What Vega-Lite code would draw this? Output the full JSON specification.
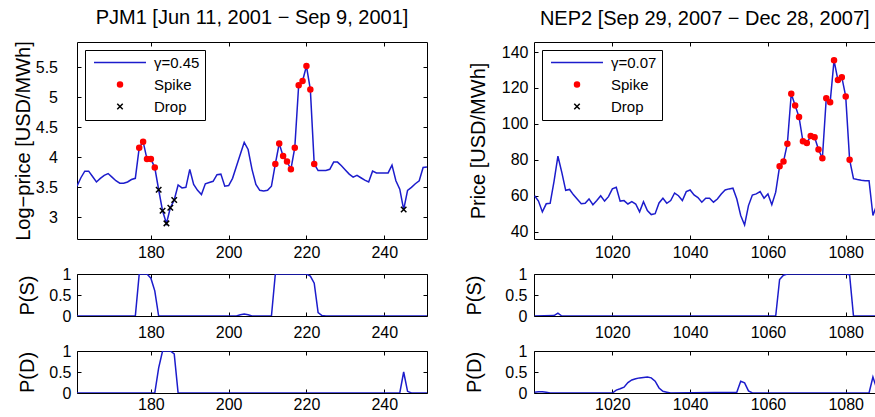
{
  "$schema": "https://vega.github.io/schema/vega-lite/v6.json",
  "padding": {"left": 12, "top": 7, "right": 0, "bottom": 0},
  "background": "white",
  "config": {
    "font": "Liberation Sans",
    "view": {"stroke": "black", "strokeWidth": 1},
    "axis": {
      "domain": false, "grid": false, "tickColor": "black", "tickSize": -4, "tickWidth": 1,
      "labelFont": "Liberation Sans", "labelFontSize": 16, "labelColor": "black",
      "titleFont": "Liberation Sans", "titleFontSize": 20, "titleFontWeight": "normal", "titleColor": "black"
    },
    "title": {"font": "Liberation Sans", "fontSize": 20, "fontWeight": "normal", "color": "black", "anchor": "middle", "frame": "group", "baseline": "alphabetic", "offset": 13},
    "legend": {
      "orient": "top-left", "offset": 8, "padding": 5, "strokeColor": "black", "fillColor": "white",
      "labelFont": "Liberation Sans", "labelFontSize": 15, "labelColor": "black",
      "clipHeight": 15, "rowPadding": 6, "labelOffset": 7, "symbolOffset": 3, "symbolStrokeWidth": 1.5
    }
  },
  "datasets": {
    "pjm": [
      {"d":161,"v":3.52,"e":""},{"d":162,"v":3.66,"e":""},{"d":163,"v":3.77,"e":""},{"d":164,"v":3.77,"e":""},
      {"d":165,"v":3.68,"e":""},{"d":166,"v":3.59,"e":""},{"d":167,"v":3.65,"e":""},{"d":168,"v":3.70,"e":""},
      {"d":169,"v":3.73,"e":""},{"d":170,"v":3.67,"e":""},{"d":171,"v":3.61,"e":""},{"d":172,"v":3.57,"e":""},
      {"d":173,"v":3.57,"e":""},{"d":174,"v":3.59,"e":""},{"d":175,"v":3.63,"e":""},{"d":176,"v":3.65,"e":""},
      {"d":177,"v":4.16,"e":"Spike"},{"d":178,"v":4.26,"e":"Spike"},{"d":179,"v":3.97,"e":"Spike"},{"d":180,"v":3.97,"e":"Spike"},
      {"d":181,"v":3.83,"e":"Spike"},{"d":182,"v":3.46,"e":"Drop"},{"d":183,"v":3.11,"e":"Drop"},{"d":184,"v":2.90,"e":"Drop"},
      {"d":185,"v":3.16,"e":"Drop"},{"d":186,"v":3.29,"e":"Drop"},{"d":187,"v":3.54,"e":""},{"d":188,"v":3.49,"e":""},
      {"d":189,"v":3.50,"e":""},{"d":190,"v":3.80,"e":""},{"d":191,"v":3.55,"e":""},{"d":192,"v":3.45,"e":""},
      {"d":193,"v":3.38,"e":""},{"d":194,"v":3.56,"e":""},{"d":195,"v":3.58,"e":""},{"d":196,"v":3.60,"e":""},
      {"d":197,"v":3.71,"e":""},{"d":198,"v":3.72,"e":""},{"d":199,"v":3.52,"e":""},{"d":200,"v":3.53,"e":""},
      {"d":201,"v":3.65,"e":""},{"d":202,"v":3.85,"e":""},{"d":203,"v":4.05,"e":""},{"d":204,"v":4.25,"e":""},
      {"d":205,"v":4.13,"e":""},{"d":206,"v":3.80,"e":""},{"d":207,"v":3.55,"e":""},{"d":208,"v":3.45,"e":""},
      {"d":209,"v":3.44,"e":""},{"d":210,"v":3.45,"e":""},{"d":211,"v":3.52,"e":""},
      {"d":212,"v":3.89,"e":"Spike"},{"d":213,"v":4.23,"e":"Spike"},{"d":214,"v":4.02,"e":"Spike"},{"d":215,"v":3.93,"e":"Spike"},
      {"d":216,"v":3.80,"e":"Spike"},{"d":217,"v":4.16,"e":"Spike"},{"d":218,"v":5.20,"e":"Spike"},{"d":219,"v":5.27,"e":"Spike"},
      {"d":220,"v":5.52,"e":"Spike"},{"d":221,"v":5.13,"e":"Spike"},{"d":222,"v":3.89,"e":"Spike"},
      {"d":223,"v":3.78,"e":""},{"d":224,"v":3.78,"e":""},{"d":225,"v":3.78,"e":""},{"d":226,"v":3.80,"e":""},
      {"d":227,"v":3.92,"e":""},{"d":228,"v":3.92,"e":""},{"d":229,"v":3.86,"e":""},{"d":230,"v":3.79,"e":""},
      {"d":231,"v":3.72,"e":""},{"d":232,"v":3.67,"e":""},{"d":233,"v":3.70,"e":""},{"d":234,"v":3.66,"e":""},
      {"d":235,"v":3.62,"e":""},{"d":236,"v":3.59,"e":""},{"d":237,"v":3.77,"e":""},{"d":238,"v":3.74,"e":""},
      {"d":239,"v":3.74,"e":""},{"d":240,"v":3.74,"e":""},{"d":241,"v":3.74,"e":""},{"d":242,"v":3.87,"e":""},
      {"d":243,"v":3.61,"e":""},{"d":244,"v":3.47,"e":""},{"d":245,"v":3.13,"e":"Drop"},{"d":246,"v":3.45,"e":""},
      {"d":247,"v":3.50,"e":""},{"d":248,"v":3.56,"e":""},{"d":249,"v":3.61,"e":""},{"d":250,"v":3.83,"e":""},
      {"d":251,"v":3.84,"e":""}
    ],
    "nep": [
      {"d":1000,"v":60,"e":""},{"d":1001,"v":57,"e":""},{"d":1002,"v":51,"e":""},{"d":1003,"v":55.5,"e":""},
      {"d":1004,"v":55.8,"e":""},{"d":1005,"v":68,"e":""},{"d":1006,"v":82,"e":""},{"d":1007,"v":73,"e":""},
      {"d":1008,"v":63,"e":""},{"d":1009,"v":63.5,"e":""},{"d":1010,"v":60.5,"e":""},{"d":1011,"v":58,"e":""},
      {"d":1012,"v":55.5,"e":""},{"d":1013,"v":55.8,"e":""},{"d":1014,"v":58.2,"e":""},{"d":1015,"v":55,"e":""},
      {"d":1016,"v":57.3,"e":""},{"d":1017,"v":60,"e":""},{"d":1018,"v":57,"e":""},{"d":1019,"v":59.5,"e":""},
      {"d":1020,"v":63.8,"e":""},{"d":1021,"v":64.7,"e":""},{"d":1022,"v":57,"e":""},{"d":1023,"v":57.3,"e":""},
      {"d":1024,"v":55.4,"e":""},{"d":1025,"v":56.7,"e":""},{"d":1026,"v":55.4,"e":""},{"d":1027,"v":51,"e":""},
      {"d":1028,"v":56.7,"e":""},{"d":1029,"v":51.7,"e":""},{"d":1030,"v":49.5,"e":""},{"d":1031,"v":50,"e":""},
      {"d":1032,"v":56,"e":""},{"d":1033,"v":58.6,"e":""},{"d":1034,"v":55.8,"e":""},{"d":1035,"v":57.3,"e":""},
      {"d":1036,"v":61.5,"e":""},{"d":1037,"v":60,"e":""},{"d":1038,"v":57.3,"e":""},{"d":1039,"v":62.3,"e":""},
      {"d":1040,"v":63.2,"e":""},{"d":1041,"v":60.4,"e":""},{"d":1042,"v":59,"e":""},{"d":1043,"v":56.4,"e":""},
      {"d":1044,"v":58.6,"e":""},{"d":1045,"v":58.6,"e":""},{"d":1046,"v":56.4,"e":""},{"d":1047,"v":58.2,"e":""},
      {"d":1048,"v":61,"e":""},{"d":1049,"v":63.2,"e":""},{"d":1050,"v":63.8,"e":""},{"d":1051,"v":64.2,"e":""},
      {"d":1052,"v":58.2,"e":""},{"d":1053,"v":49,"e":""},{"d":1054,"v":43.7,"e":""},{"d":1055,"v":54.5,"e":""},
      {"d":1056,"v":60.4,"e":""},{"d":1057,"v":61,"e":""},{"d":1058,"v":62.3,"e":""},{"d":1059,"v":58.6,"e":""},
      {"d":1060,"v":61,"e":""},{"d":1061,"v":55,"e":""},{"d":1062,"v":62,"e":""},
      {"d":1063,"v":76.4,"e":"Spike"},{"d":1064,"v":79,"e":"Spike"},{"d":1065,"v":89,"e":"Spike"},{"d":1066,"v":116.8,"e":"Spike"},
      {"d":1067,"v":110.3,"e":"Spike"},{"d":1068,"v":103.8,"e":"Spike"},{"d":1069,"v":90.3,"e":"Spike"},{"d":1070,"v":89.3,"e":"Spike"},
      {"d":1071,"v":93.2,"e":"Spike"},{"d":1072,"v":92.6,"e":"Spike"},{"d":1073,"v":85.7,"e":"Spike"},{"d":1074,"v":80.9,"e":"Spike"},
      {"d":1075,"v":114.3,"e":"Spike"},{"d":1076,"v":112,"e":"Spike"},{"d":1077,"v":135.4,"e":"Spike"},{"d":1078,"v":124.4,"e":"Spike"},
      {"d":1079,"v":126,"e":"Spike"},{"d":1080,"v":115.3,"e":"Spike"},{"d":1081,"v":80.1,"e":"Spike"},
      {"d":1082,"v":69.5,"e":""},{"d":1083,"v":69,"e":""},{"d":1084,"v":68.6,"e":""},{"d":1085,"v":68.4,"e":""},
      {"d":1086,"v":68.4,"e":""},{"d":1087,"v":49,"e":""},{"d":1088,"v":55,"e":""}
    ],
    "pjmS": [
      {"d":161,"p":0},{"d":176,"p":0},{"d":177,"p":1},{"d":178,"p":1},{"d":179,"p":1},{"d":180,"p":0.9},{"d":181,"p":0.6},{"d":182,"p":0},
      {"d":202,"p":0},{"d":203,"p":0.03},{"d":204,"p":0.05},{"d":205,"p":0.03},{"d":206,"p":0},
      {"d":211,"p":0},{"d":212,"p":1},{"d":213,"p":1},{"d":214,"p":1},{"d":215,"p":1},{"d":216,"p":1},{"d":217,"p":1},
      {"d":218,"p":1},{"d":219,"p":1},{"d":220,"p":1},{"d":221,"p":0.95},{"d":222,"p":0.78},{"d":223,"p":0.08},{"d":224,"p":0.01},
      {"d":225,"p":0},{"d":251,"p":0}
    ],
    "pjmD": [
      {"d":161,"p":0},{"d":181,"p":0},{"d":182,"p":0.6},{"d":183,"p":1},{"d":184,"p":1},{"d":185,"p":1},{"d":186,"p":0.93},{"d":187,"p":0},
      {"d":244,"p":0},{"d":245,"p":0.5},{"d":246,"p":0.04},{"d":247,"p":0},{"d":251,"p":0}
    ],
    "nepS": [
      {"d":1000,"p":0},{"d":1005,"p":0.01},{"d":1006,"p":0.07},{"d":1007,"p":0},{"d":1062,"p":0},{"d":1063,"p":0.87},{"d":1064,"p":0.97},
      {"d":1065,"p":1},{"d":1070,"p":1},{"d":1075,"p":1},{"d":1080,"p":1},{"d":1081,"p":0.98},{"d":1082,"p":0},{"d":1088,"p":0}
    ],
    "nepD": [
      {"d":1000,"p":0.02},{"d":1001,"p":0.03},{"d":1002,"p":0.03},{"d":1003,"p":0.02},{"d":1004,"p":0},
      {"d":1020,"p":0},{"d":1021,"p":0.07},{"d":1022,"p":0.1},{"d":1023,"p":0.14},{"d":1024,"p":0.25},{"d":1025,"p":0.31},
      {"d":1026,"p":0.34},{"d":1027,"p":0.36},{"d":1028,"p":0.37},{"d":1029,"p":0.38},{"d":1030,"p":0.36},{"d":1031,"p":0.28},
      {"d":1032,"p":0.12},{"d":1033,"p":0.04},{"d":1034,"p":0.02},{"d":1035,"p":0},
      {"d":1052,"p":0.02},{"d":1053,"p":0.28},{"d":1054,"p":0.24},{"d":1055,"p":0.05},{"d":1056,"p":0},
      {"d":1086,"p":0},{"d":1087,"p":0.38},{"d":1088,"p":0.1}
    ]
  },
  "columns": 2,
  "bounds": "flush",
  "spacing": {"row": 35, "column": 107},
  "resolve": {
    "scale": {"fill": "independent", "stroke": "independent", "shape": "independent", "size": "independent"},
    "legend": {"fill": "independent", "stroke": "independent", "shape": "independent", "size": "independent"}
  },
  "concat": [
    {
      "width": 350, "height": 197,
      "title": {"text": "PJM1 [Jun 11, 2001 − Sep 9, 2001]"},
      "data": {"name": "pjm"},
      "resolve": {"axis": {"x": "independent", "y": "independent"}},
      "layer": [
        {
          "mark": {"type": "line", "color": "#1c1ccc", "strokeWidth": 1.5, "clip": true},
          "encoding": {
            "x": {"field": "d", "type": "quantitative", "scale": {"domain": [161, 251], "nice": false, "zero": false},
                  "axis": {"title": null, "values": [180, 200, 220, 240], "format": "d", "labelPadding": 9}},
            "y": {"field": "v", "type": "quantitative", "scale": {"domain": [2.64, 5.92], "nice": false, "zero": false},
                  "axis": {"title": "Log−price [USD/MWh]", "values": [3, 3.5, 4, 4.5, 5, 5.5], "format": "~g", "labelPadding": 23.5, "titlePadding": 2}}
          }
        },
        {
          "transform": [{"filter": "datum.e !== ''"}],
          "mark": {"type": "point", "filled": true, "opacity": 1, "strokeWidth": 1.5, "clip": true},
          "encoding": {
            "x": {"field": "d", "type": "quantitative", "axis": {"orient": "top", "labels": false, "title": null, "values": [180, 200, 220, 240]}},
            "y": {"field": "v", "type": "quantitative", "axis": {"orient": "right", "labels": false, "title": null, "values": [3, 3.5, 4, 4.5, 5, 5.5]}},
            "fill": {"field": "e", "type": "nominal", "scale": {"domain": ["γ=0.45", "Spike", "Drop"], "range": ["#1c1ccc", "#ff0000", "#000000"]}, "legend": {"title": null}},
            "stroke": {"field": "e", "type": "nominal", "scale": {"domain": ["γ=0.45", "Spike", "Drop"], "range": ["#1c1ccc", "#ff0000", "#000000"]}, "legend": {"title": null}},
            "shape": {"field": "e", "type": "nominal", "scale": {"domain": ["γ=0.45", "Spike", "Drop"], "range": ["stroke", "circle", "M-1,-1L1,1M-1,1L1,-1"]}, "legend": {"title": null}},
            "size": {"field": "e", "type": "nominal", "scale": {"type": "ordinal", "domain": ["γ=0.45", "Spike", "Drop"], "range": [2700, 25, 30]}, "legend": {"title": null}}
          }
        }
      ]
    },
    {
      "width": 341.5, "height": 197,
      "title": {"text": "NEP2 [Sep 29, 2007 − Dec 28, 2007]"},
      "data": {"name": "nep"},
      "resolve": {"axis": {"x": "independent", "y": "independent"}},
      "layer": [
        {
          "mark": {"type": "line", "color": "#1c1ccc", "strokeWidth": 1.5, "clip": true},
          "encoding": {
            "x": {"field": "d", "type": "quantitative", "scale": {"domain": [999.85, 1087.66], "nice": false, "zero": false},
                  "axis": {"title": null, "values": [1020, 1040, 1060, 1080], "format": "d", "labelPadding": 9}},
            "y": {"field": "v", "type": "quantitative", "scale": {"domain": [35.9, 145.6], "nice": false, "zero": false},
                  "axis": {"title": "Price [USD/MWh]", "values": [40, 60, 80, 100, 120, 140], "format": "d", "labelPadding": 10, "titlePadding": 13}}
          }
        },
        {
          "transform": [{"filter": "datum.e !== ''"}],
          "mark": {"type": "point", "filled": true, "opacity": 1, "strokeWidth": 1.5, "clip": true},
          "encoding": {
            "x": {"field": "d", "type": "quantitative", "axis": {"orient": "top", "labels": false, "title": null, "values": [1020, 1040, 1060, 1080]}},
            "y": {"field": "v", "type": "quantitative", "axis": {"orient": "right", "labels": false, "ticks": false, "domain": false, "title": null}},
            "fill": {"field": "e", "type": "nominal", "scale": {"domain": ["γ=0.07", "Spike", "Drop"], "range": ["#1c1ccc", "#ff0000", "#000000"]}, "legend": {"title": null}},
            "stroke": {"field": "e", "type": "nominal", "scale": {"domain": ["γ=0.07", "Spike", "Drop"], "range": ["#1c1ccc", "#ff0000", "#000000"]}, "legend": {"title": null}},
            "shape": {"field": "e", "type": "nominal", "scale": {"domain": ["γ=0.07", "Spike", "Drop"], "range": ["stroke", "circle", "M-1,-1L1,1M-1,1L1,-1"]}, "legend": {"title": null}},
            "size": {"field": "e", "type": "nominal", "scale": {"type": "ordinal", "domain": ["γ=0.07", "Spike", "Drop"], "range": [2700, 25, 30]}, "legend": {"title": null}}
          }
        }
      ]
    },
    {
      "width": 350, "height": 42,
      "data": {"name": "pjmS"},
      "resolve": {"axis": {"x": "independent", "y": "independent"}},
      "layer": [
        {
          "mark": {"type": "line", "color": "#1c1ccc", "strokeWidth": 1.5, "clip": true},
          "encoding": {
            "x": {"field": "d", "type": "quantitative", "scale": {"domain": [161, 251], "nice": false, "zero": false},
                  "axis": {"title": null, "values": [180, 200, 220, 240], "format": "d", "labelPadding": 12.5}},
            "y": {"field": "p", "type": "quantitative", "scale": {"domain": [0, 1], "nice": false},
                  "axis": {"title": "P(S)", "values": [0, 0.5, 1], "format": "~g", "labelPadding": 10, "titlePadding": 11}}
          }
        },
        {
          "mark": {"type": "line", "strokeOpacity": 0, "clip": true},
          "encoding": {
            "x": {"field": "d", "type": "quantitative", "axis": {"orient": "top", "labels": false, "title": null, "values": [180, 200, 220, 240]}},
            "y": {"field": "p", "type": "quantitative", "axis": {"orient": "right", "labels": false, "title": null, "values": [0, 0.5, 1]}}
          }
        }
      ]
    },
    {
      "width": 341.5, "height": 42,
      "data": {"name": "nepS"},
      "resolve": {"axis": {"x": "independent", "y": "independent"}},
      "layer": [
        {
          "mark": {"type": "line", "color": "#1c1ccc", "strokeWidth": 1.5, "clip": true},
          "encoding": {
            "x": {"field": "d", "type": "quantitative", "scale": {"domain": [999.85, 1087.66], "nice": false, "zero": false},
                  "axis": {"title": null, "values": [1020, 1040, 1060, 1080], "format": "d", "labelPadding": 12.5}},
            "y": {"field": "p", "type": "quantitative", "scale": {"domain": [0, 1], "nice": false},
                  "axis": {"title": "P(S)", "values": [0, 0.5, 1], "format": "~g", "labelPadding": 11, "titlePadding": 20}}
          }
        },
        {
          "mark": {"type": "line", "strokeOpacity": 0, "clip": true},
          "encoding": {
            "x": {"field": "d", "type": "quantitative", "axis": {"orient": "top", "labels": false, "title": null, "values": [1020, 1040, 1060, 1080]}},
            "y": {"field": "p", "type": "quantitative", "axis": {"orient": "right", "labels": false, "ticks": false, "domain": false, "title": null}}
          }
        }
      ]
    },
    {
      "width": 350, "height": 42,
      "data": {"name": "pjmD"},
      "resolve": {"axis": {"x": "independent", "y": "independent"}},
      "layer": [
        {
          "mark": {"type": "line", "color": "#1c1ccc", "strokeWidth": 1.5, "clip": true},
          "encoding": {
            "x": {"field": "d", "type": "quantitative", "scale": {"domain": [161, 251], "nice": false, "zero": false},
                  "axis": {"title": null, "values": [180, 200, 220, 240], "format": "d", "labelPadding": 7.5}},
            "y": {"field": "p", "type": "quantitative", "scale": {"domain": [0, 1], "nice": false},
                  "axis": {"title": "P(D)", "values": [0, 0.5, 1], "format": "~g", "labelPadding": 10, "titlePadding": 11}}
          }
        },
        {
          "mark": {"type": "line", "strokeOpacity": 0, "clip": true},
          "encoding": {
            "x": {"field": "d", "type": "quantitative", "axis": {"orient": "top", "labels": false, "title": null, "values": [180, 200, 220, 240]}},
            "y": {"field": "p", "type": "quantitative", "axis": {"orient": "right", "labels": false, "title": null, "values": [0, 0.5, 1]}}
          }
        }
      ]
    },
    {
      "width": 341.5, "height": 42,
      "data": {"name": "nepD"},
      "resolve": {"axis": {"x": "independent", "y": "independent"}},
      "layer": [
        {
          "mark": {"type": "line", "color": "#1c1ccc", "strokeWidth": 1.5, "clip": true},
          "encoding": {
            "x": {"field": "d", "type": "quantitative", "scale": {"domain": [999.85, 1087.66], "nice": false, "zero": false},
                  "axis": {"title": null, "values": [1020, 1040, 1060, 1080], "format": "d", "labelPadding": 7.5}},
            "y": {"field": "p", "type": "quantitative", "scale": {"domain": [0, 1], "nice": false},
                  "axis": {"title": "P(D)", "values": [0, 0.5, 1], "format": "~g", "labelPadding": 11, "titlePadding": 20}}
          }
        },
        {
          "mark": {"type": "line", "strokeOpacity": 0, "clip": true},
          "encoding": {
            "x": {"field": "d", "type": "quantitative", "axis": {"orient": "top", "labels": false, "title": null, "values": [1020, 1040, 1060, 1080]}},
            "y": {"field": "p", "type": "quantitative", "axis": {"orient": "right", "labels": false, "ticks": false, "domain": false, "title": null}}
          }
        }
      ]
    }
  ]
}
